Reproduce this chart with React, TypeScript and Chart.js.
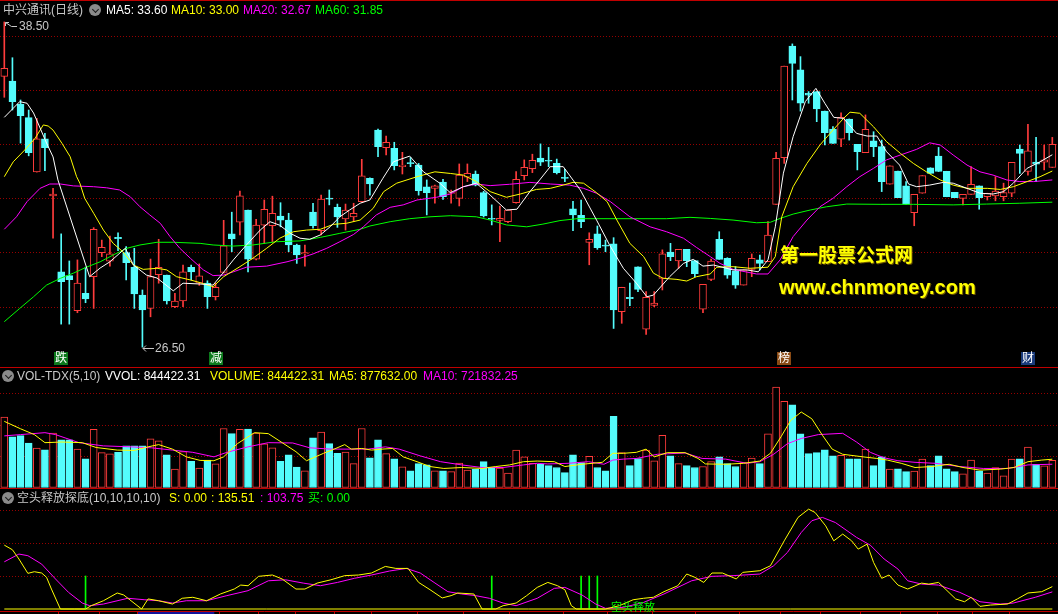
import React, { useEffect, useRef } from "react";
import { Chart, registerables } from "chart.js";

Chart.register(...registerables);

// ---------- price data (candle index 0..129) ----------
const openP = [36.49,36.32,35.47,34.97,32.97,34.19,32.08,29.28,29.14,27.85,28.49,29.10,29.99,29.67,30.55,29.99,29.45,28.42,27.93,29.17,
29.16,27.99,28.21,29.45,28.86,28.86,28.36,29.26,30.68,31.11,31.56,29.75,31.00,30.98,31.34,31.19,30.27,29.94,31.48,30.80,
31.99,31.66,31.23,31.31,31.87,32.73,34.51,33.86,33.84,33.16,33.31,33.22,32.42,32.36,32.59,32.17,31.99,32.77,32.89,32.20,
31.25,31.18,31.13,31.83,32.83,33.09,33.48,33.39,33.28,32.77,31.60,31.36,30.36,30.68,30.26,30.31,27.81,28.34,29.46,27.16,
28.04,29.04,30.01,29.68,30.11,29.69,27.90,29.00,30.48,29.78,29.32,28.79,29.37,29.72,29.65,31.77,33.49,37.61,36.73,35.87,
35.93,35.21,34.55,34.17,34.92,33.98,33.68,34.11,33.90,32.51,33.00,32.45,31.46,32.18,33.12,33.55,32.99,32.21,31.99,32.14,
32.45,32.05,32.08,32.05,32.18,33.81,32.98,33.33,33.33,33.13];
const highP = [38.50,37.18,35.62,35.25,34.94,34.39,32.36,30.68,29.68,29.72,29.45,30.91,30.45,30.60,30.72,30.21,30.15,28.61,29.75,30.48,
29.16,28.49,29.53,29.53,29.57,28.95,28.86,31.18,31.48,32.26,31.56,31.22,31.93,32.07,31.83,31.44,30.30,30.27,31.81,32.11,
32.30,31.78,31.78,31.81,33.43,32.75,34.55,34.29,34.06,33.69,33.50,33.28,32.67,32.48,32.69,32.30,33.26,33.26,33.00,32.25,
31.75,31.71,31.56,32.98,33.41,33.62,34.00,33.87,33.44,33.06,31.88,31.93,30.72,30.97,30.45,30.54,28.71,28.86,29.46,28.55,
28.55,30.09,30.33,30.11,30.11,29.69,28.82,29.75,30.76,29.80,29.47,29.35,29.94,29.90,31.13,33.69,36.87,37.69,37.22,35.93,
35.93,35.21,34.64,35.15,34.92,33.98,35.07,34.45,34.14,33.19,33.00,32.61,32.14,32.83,33.12,33.87,32.99,32.21,32.14,33.16,
32.45,32.18,32.79,32.55,33.32,33.96,34.72,34.24,33.96,34.24];
const lowP = [35.72,35.25,34.03,33.56,32.96,33.01,30.52,27.35,27.35,27.77,28.14,27.93,29.84,29.49,30.06,28.98,27.93,26.50,27.62,28.86,
28.09,27.96,27.99,28.98,28.78,27.93,28.24,29.23,30.02,30.64,29.28,29.72,30.33,30.39,30.94,30.02,29.59,29.49,30.89,30.64,
31.75,30.92,30.82,31.13,31.85,32.11,33.53,33.59,33.04,32.89,33.16,32.11,31.38,31.81,31.95,31.81,31.71,32.61,32.45,31.30,
31.01,30.39,31.09,31.81,32.67,32.94,33.20,33.16,32.89,32.61,30.80,30.91,29.54,30.11,30.02,27.19,27.38,28.03,28.55,26.97,
27.99,28.61,29.69,29.41,29.47,29.10,27.77,28.95,29.74,29.04,28.67,28.79,29.10,29.35,29.65,31.77,33.28,35.62,35.21,35.50,
34.82,33.96,34.02,33.90,34.14,33.04,33.68,33.53,32.24,32.51,32.02,31.78,30.98,32.18,32.91,32.98,32.05,32.02,31.75,32.14,
31.59,31.93,31.90,31.90,32.05,32.91,32.85,32.61,33.04,33.13];
const closeP = [36.79,35.56,35.04,33.68,34.19,33.86,32.15,28.92,28.99,28.86,28.28,30.85,30.18,29.94,30.50,29.62,28.46,27.87,29.10,29.45,
28.21,28.20,29.28,29.28,29.13,28.36,28.71,30.24,30.49,32.08,29.75,31.00,31.59,31.44,31.19,30.27,29.90,29.99,30.98,31.96,
31.96,31.31,31.56,31.44,32.82,32.52,33.90,34.06,33.20,33.22,33.27,32.27,32.20,32.45,32.05,32.18,32.85,32.91,32.48,31.34,
31.22,31.25,31.56,32.69,33.14,33.39,33.33,33.36,32.94,32.73,31.38,31.13,30.48,30.17,30.23,27.87,28.71,28.29,28.63,28.34,
28.13,29.94,29.84,30.11,29.69,29.21,28.82,29.68,29.74,29.16,28.79,29.35,29.78,29.59,30.64,33.47,36.87,36.97,35.50,35.80,
35.29,34.41,34.02,34.98,34.41,33.71,34.54,33.90,32.61,33.19,32.02,31.78,32.14,32.83,32.91,32.98,32.05,32.02,32.14,32.51,
32.02,32.18,32.26,32.20,33.32,33.65,33.74,33.25,33.41,33.98];

// moving averages: [candle index, value]
const ma5Pts: [number, number][] = [[0,34.98],[1.9,35.56],[2.8,35.50],[3.6,35.14],[4.4,34.59],[5.2,34.03],[6.0,33.52],[6.6,32.67],[10.5,29.10],[11.8,29.42],[13.0,29.65],[14.9,30.15],[15.9,29.53],[17.5,29.16],[18.8,29.05],[20.8,28.58],[22.0,28.86],[24.1,28.83],[25.7,28.79],[26.9,29.23],[28.2,29.72],[29.8,30.27],[31.5,30.82],[32.7,31.13],[33.9,31.00],[35.2,30.70],[36.4,30.52],[37.6,30.48],[38.9,30.64],[40.1,30.94],[41.3,31.31],[42.5,31.56],[43.8,31.81],[45.0,31.93],[46.6,32.73],[47.9,33.34],[49.9,33.55],[51.6,32.97],[53.6,32.55],[54.9,32.20],[56.5,32.42],[58.1,32.55],[59.8,32.11],[61.8,31.56],[63.1,31.59],[64.7,32.24],[65.9,32.67],[67.2,33.16],[68.8,33.16],[70.9,32.30],[72.9,31.19],[74.5,30.27],[76.2,29.41],[77.8,28.86],[79.1,28.36],[79.9,28.42],[81.9,29.10],[83.6,29.59],[84.8,29.74],[86.0,29.49],[87.3,29.53],[89.7,29.35],[91.4,29.35],[92.8,29.28],[94.0,29.72],[94.9,30.94],[95.9,32.92],[97.1,34.27],[98.6,35.56],[99.9,36.05],[101.0,35.50],[102.1,34.98],[103.3,34.94],[104.9,34.39],[106.2,34.29],[107.4,34.29],[108.6,33.71],[110.2,33.22],[111.3,32.52],[112.3,32.42],[113.9,32.48],[115.6,32.58],[116.8,32.55],[118.5,32.36],[120.1,32.18],[121.7,32.15],[123.0,32.24],[124.2,32.55],[125.9,33.10],[127.5,33.34],[129,33.60]];
const ma10Pts: [number, number][] = [[0,32.79],[1.1,33.34],[2.5,33.77],[3.8,34.21],[4.8,34.70],[5.4,34.66],[6.0,34.51],[7.1,34.02],[8.1,33.53],[8.9,32.79],[9.3,32.55],[9.9,31.99],[11.0,31.44],[12.2,30.82],[13.4,30.33],[14.6,30.02],[15.9,29.53],[17.1,29.37],[18.8,29.41],[20.0,29.35],[21.2,29.10],[22.9,28.98],[24.1,28.88],[25.7,28.73],[27.0,29.10],[29.0,29.47],[30.6,29.78],[32.3,30.15],[33.9,30.52],[35.6,30.76],[37.2,30.82],[38.9,30.85],[40.5,31.03],[42.1,31.07],[43.8,31.19],[45.4,31.62],[46.7,32.24],[48.3,32.55],[50.8,32.79],[53.0,32.97],[54.9,32.91],[56.5,32.85],[58.1,32.61],[59.8,32.24],[61.8,32.03],[63.5,32.15],[65.5,32.32],[67.2,32.36],[68.8,32.48],[70.0,32.58],[71.3,32.55],[72.9,32.20],[74.2,31.87],[75.4,31.19],[77.0,30.33],[78.7,29.84],[79.9,29.23],[81.1,29.04],[82.8,29.00],[84.0,28.94],[85.2,29.10],[86.9,29.20],[87.7,29.45],[89.7,29.47],[91.8,29.41],[94.0,29.45],[94.9,29.84],[95.7,31.31],[97.1,32.42],[98.8,33.28],[100.4,33.96],[102.0,34.51],[103.3,34.94],[104.1,35.17],[105.3,35.13],[107.0,34.63],[108.6,34.08],[110.3,33.65],[111.9,33.28],[113.5,32.97],[115.2,32.67],[116.8,32.48],[118.5,32.36],[121.0,32.36],[122.6,32.32],[124.2,32.42],[125.9,32.61],[127.5,32.79],[129,33.00]];
const ma20Pts: [number, number][] = [[0,30.85],[1.5,31.31],[2.8,31.87],[4.4,32.36],[5.6,32.52],[6.9,32.52],[8.5,32.45],[11.0,32.42],[12.6,32.38],[14.2,32.30],[15.5,32.05],[16.7,31.68],[17.9,31.38],[19.2,31.07],[20.4,30.58],[21.6,30.15],[22.9,29.78],[24.5,29.35],[25.7,29.14],[27.0,29.16],[28.2,29.28],[29.8,29.45],[32.3,29.49],[34.8,29.65],[36.4,29.78],[38.0,29.94],[39.7,30.15],[41.3,30.39],[43.0,30.66],[44.2,30.94],[45.8,31.38],[47.5,31.66],[49.1,31.75],[50.8,31.93],[53.2,32.03],[54.9,32.15],[56.5,32.42],[58.1,32.52],[59.8,32.46],[62.2,32.51],[64.7,32.58],[67.2,32.52],[69.6,32.48],[71.3,32.36],[72.9,32.18],[74.6,31.87],[77.0,31.31],[79.5,30.94],[81.5,30.76],[83.6,30.52],[85.2,30.18],[86.9,29.84],[88.1,29.59],[89.7,29.37],[92.6,29.20],[94.0,29.20],[95.5,29.72],[97.1,30.58],[98.8,31.19],[100.4,31.68],[102.0,31.99],[103.7,32.42],[105.3,32.79],[107.0,33.10],[108.6,33.41],[110.3,33.59],[112.3,33.80],[113.9,34.04],[115.2,33.96],[116.8,33.59],[118.5,33.22],[120.1,32.97],[121.7,32.85],[123.4,32.67],[125.0,32.61],[126.7,32.61],[129,32.67]];
const ma60Pts: [number, number][] = [[0,27.44],[1.9,27.93],[3.6,28.36],[5.2,28.79],[6.9,29.04],[8.5,29.23],[10.1,29.45],[11.8,29.65],[13.4,29.90],[15.1,30.15],[16.7,30.27],[18.8,30.37],[20.8,30.37],[24.1,30.33],[25.7,30.27],[28.2,30.23],[30.6,30.27],[33.5,30.39],[36.4,30.42],[38.9,30.55],[41.3,30.70],[43.8,30.85],[45.0,30.97],[47.5,31.13],[49.9,31.24],[52.4,31.31],[54.9,31.35],[58.1,31.31],[59.8,31.19],[61.8,31.01],[64.3,30.94],[66.3,31.04],[68.4,31.17],[70.5,31.24],[75.4,31.24],[81.5,31.24],[84.4,31.29],[86.9,31.25],[89.7,31.19],[92.6,31.09],[94.3,31.11],[95.5,31.25],[97.1,31.41],[99.2,31.56],[101.2,31.68],[103.7,31.78],[107.8,31.77],[111.9,31.77],[116.8,31.75],[120.9,31.78],[125.0,31.81],[129,31.85]];

// ---------- volume ----------
const volume = [2180000,1570000,1610000,1380000,1220000,1170000,1690000,1480000,1480000,1190000,890000,1800000,1080000,1040000,1090000,1290000,1290000,1290000,1510000,1450000,
1010000,570000,1110000,810000,600000,850000,730000,1830000,1670000,1800000,1810000,1690000,1350000,1230000,810000,1010000,630000,520000,1540000,1720000,
1360000,1060000,1100000,740000,1830000,920000,1480000,1050000,890000,640000,520000,740000,700000,520000,520000,490000,760000,540000,560000,800000,
630000,600000,450000,1160000,950000,750000,720000,680000,620000,460000,1010000,770000,970000,620000,520000,2210000,1080000,680000,900000,1160000,
830000,1620000,980000,740000,680000,620000,650000,800000,950000,740000,650000,770000,910000,740000,1660000,3110000,2670000,2560000,1660000,1050000,
1080000,1170000,980000,1000000,890000,890000,1190000,680000,950000,570000,580000,490000,510000,880000,680000,980000,580000,490000,420000,850000,
520000,450000,620000,360000,880000,890000,1250000,720000,670000,844422];
const volMa5Pts: [number, number][] = [[0,2050000],[2,1820000],[3.7,1640000],[5,1390000],[7.1,1410000],[9.6,1390000],[11.3,1240000],[13.9,1160000],[16,1150000],[17.7,1260000],[19,1330000],[20.7,1190000],[22.4,950000],[24.1,840000],[25.8,830000],[27,950000],[28.7,1360000],[30.8,1700000],[32.5,1670000],[34.2,1390000],[35.9,1110000],[37.2,830000],[39.3,1060000],[40.6,1190000],[41.9,1330000],[42.7,1190000],[44,1210000],[45.2,1160000],[46.5,1190000],[47.8,1210000],[49.1,950000],[50.8,800000],[52.4,650000],[54.1,590000],[56.3,620000],[58.8,590000],[60.5,650000],[62.2,700000],[63.9,800000],[65.6,820000],[67.7,800000],[69,650000],[71.1,720000],[73.6,780000],[74.9,1060000],[76.2,1060000],[77.8,1090000],[79,1190000],[80,950000],[81.6,1080000],[83.8,1080000],[85.4,900000],[86.3,730000],[88.8,720000],[91,750000],[93,820000],[94.3,1060000],[95.6,1570000],[96.8,2080000],[98.1,2340000],[99.4,2130000],[100.7,1620000],[101.9,1190000],[103.2,1030000],[105.7,950000],[107.4,900000],[108.7,850000],[110.4,750000],[112.1,620000],[114.2,650000],[116.3,720000],[118,620000],[120.1,540000],[122.6,570000],[124.3,620000],[126,800000],[127.7,850000],[129,877632]];
const volMa10Pts: [number, number][] = [[0,1600000],[2,1640000],[5,1700000],[6.3,1640000],[9.2,1390000],[12.2,1290000],[15.6,1260000],[18.1,1230000],[20.7,1160000],[23.2,1090000],[25.8,950000],[27.4,1090000],[30,1260000],[32.5,1390000],[35.5,1380000],[37.6,1230000],[40.2,1190000],[42.7,1190000],[44.8,1190000],[46.9,1260000],[48.6,1190000],[51.2,980000],[53.7,800000],[56.3,700000],[58.8,620000],[61.4,620000],[63.9,700000],[65.6,750000],[66.9,730000],[69.4,750000],[71.9,800000],[73.8,720000],[74.9,850000],[76.2,880000],[77.8,900000],[80.4,1030000],[83.8,1070000],[85.9,900000],[88.8,880000],[91.4,750000],[93,800000],[94.7,1030000],[96.4,1360000],[98.1,1520000],[100.2,1640000],[103.2,1680000],[104.9,1410000],[106.6,1090000],[108.3,920000],[110,830000],[112.1,780000],[114.6,750000],[117.6,650000],[120.5,590000],[123.5,590000],[126,700000],[129,721832]];

// ---------- 空头释放探底 indicator ----------
const oscPts: [number, number][] = [[0,387],[1.0,359],[1.8,303],[2.9,216],[3.7,226],[4.6,218],[5.2,192],[5.8,121],[6.9,0],[8.6,0],[10,0],[10.7,20],[12.2,50],[13.9,97],[14.7,85],[15.6,50],[16.9,0],[17.7,61],[19.0,50],[20.7,30],[21.9,65],[23.2,71],[24.9,50],[26.6,91],[28.3,121],[29.1,145],[30.0,141],[31.3,198],[33.0,206],[34.2,182],[35.9,121],[37.0,121],[38.5,157],[40.2,177],[41.9,202],[43.6,206],[45.2,218],[46.9,258],[48.2,246],[49.7,246],[51.0,161],[52.4,117],[53.9,67],[55.0,81],[55.8,97],[57.8,91],[58.8,0],[60.5,0],[61.4,20],[63.0,36],[64.3,81],[65.6,131],[66.9,161],[68.1,141],[69.0,117],[69.8,20],[70.4,0],[74.0,0],[75.7,20],[77.4,56],[78.7,65],[79.9,71],[81.2,105],[82.9,141],[84.0,212],[85.0,192],[86.1,161],[87.1,218],[88.4,218],[90.1,182],[90.9,222],[93.0,232],[94.3,262],[96.0,413],[97.7,555],[99.0,605],[99.8,585],[101.1,504],[102.1,413],[103.2,454],[104.3,413],[105.1,363],[106.2,393],[107.0,282],[108.0,186],[108.9,206],[110.0,145],[111.2,121],[112.9,157],[113.8,151],[115.0,161],[117.1,61],[118.2,44],[119.0,71],[120.1,16],[121.4,24],[123.5,30],[124.7,61],[126.0,97],[127.7,105],[129,135.51]];
const oscMaPts: [number, number][] = [[0,286],[1.8,333],[2.9,323],[4.6,272],[6.3,182],[7.9,101],[9.6,36],[10.5,20],[12.2,30],[15.2,65],[17.3,56],[19.0,50],[20.7,36],[22.4,50],[24.9,50],[27.4,81],[30.0,111],[32.5,171],[34.6,177],[36.8,157],[38.9,141],[41.0,161],[43.1,186],[45.2,206],[47.4,230],[49.5,246],[51.2,218],[52.9,161],[54.6,105],[56.3,91],[58.0,81],[59.7,65],[61.4,36],[63.0,20],[65.6,65],[67.7,125],[69.0,131],[71.1,85],[72.8,30],[74.0,4],[76.2,10],[78.7,40],[81.2,91],[84.6,171],[87.1,198],[89.7,202],[93.0,212],[94.7,262],[96.4,343],[98.1,464],[99.4,535],[100.7,555],[102.3,524],[104.9,434],[106.6,387],[108.3,303],[110.0,242],[111.2,171],[112.9,151],[115.0,145],[117.6,101],[120.1,44],[122.6,30],[124.2,36],[126.9,71],[129,103.75]];
const sLinePts: [number, number][] = [[0,0],[129,0]];
const buyIdx = [10, 60, 71, 72, 73];
const buyVal = [200, 200, 200, 200, 200];

// markers
const eventIdx = [7, 26, 96, 126];
const eventText = ["跌", "减", "榜", "财"];
const axisTicks = [6.65,11.66,16.37,26.46,31.19,35.82,40.55,45.14,50.84,56.5,62.12,68.77,74.22,79.69,85.02,90.47,95.45,100.44,105.29,110.25,114.77,119.11,123.63];
const axisBand = [16.37, 25.85];

const priceGrid = [28, 30, 32, 34, 36, 38];
const volGrid = [975000, 1950000, 2925000];
const indGrid = [200, 400, 600];

// ---------- styles ----------
const RED = "#ff3c3c";
const CYAN = "#54fcfc";
const SEP = "#c00000";
const DOT = "#960000";
const FONT = '12px "Liberation Sans", "Noto Sans CJK SC", sans-serif';
const X_MIN = -0.53;
const X_MAX = 129.7;
const W = 1058;

const isUp = (i: number) => closeP[i] >= openP[i];
const idx = openP.map((_, i) => i);
const pts = (a: [number, number][]) => a.map(([x, y]) => ({ x, y }));

const gridPlugin = {
  id: "dotGrid",
  beforeDatasetsDraw(chart: any, _a: any, opts: any) {
    const { ctx, chartArea } = chart;
    const ys = chart.scales.y;
    ctx.save();
    ctx.strokeStyle = DOT;
    ctx.lineWidth = 1;
    ctx.setLineDash([1, 2]);
    for (const v of opts.values || []) {
      const py = Math.round(ys.getPixelForValue(v)) + 0.5;
      ctx.beginPath();
      ctx.moveTo(chartArea.left, py);
      ctx.lineTo(chartArea.right, py);
      ctx.stroke();
    }
    ctx.restore();
  },
};

const markerPlugin = {
  id: "priceMarks",
  afterDatasetsDraw(chart: any) {
    const { ctx } = chart;
    const xs = chart.scales.x, ys = chart.scales.y;
    ctx.save();
    ctx.font = FONT;
    ctx.strokeStyle = "#c8c8c8";
    ctx.fillStyle = "#c8c8c8";
    ctx.lineWidth = 1;
    let hi = 0, lo = 0;
    highP.forEach((v, i) => { if (v > highP[hi]) hi = i; });
    lowP.forEach((v, i) => { if (v < lowP[lo]) lo = i; });
    const hx = Math.round(xs.getPixelForValue(hi)), hy = Math.round(ys.getPixelForValue(highP[hi]));
    ctx.beginPath();
    ctx.moveTo(hx + 1.5, hy + 0.5); ctx.lineTo(hx + 7.5, hy + 4.5); ctx.lineTo(hx + 13, hy + 4.5);
    ctx.moveTo(hx + 1.5, hy + 0.5); ctx.lineTo(hx + 5, hy + 0.5);
    ctx.moveTo(hx + 1.5, hy + 0.5); ctx.lineTo(hx + 1.5, hy + 4);
    ctx.stroke();
    ctx.textBaseline = "middle";
    ctx.fillText(highP[hi].toFixed(2), hx + 15, hy + 5);
    const lx = Math.round(xs.getPixelForValue(lo)), ly = Math.round(ys.getPixelForValue(lowP[lo]));
    ctx.beginPath();
    ctx.moveTo(lx + 1, ly + 1.5); ctx.lineTo(lx + 12, ly + 1.5);
    ctx.moveTo(lx + 1, ly + 1.5); ctx.lineTo(lx + 4, ly - 1.5);
    ctx.moveTo(lx + 1, ly + 1.5); ctx.lineTo(lx + 4, ly + 4.5);
    ctx.stroke();
    ctx.fillText(lowP[lo].toFixed(2), lx + 13, ly + 2);
    const bgs = ["#0c7a1c", "#0c7a1c", "#8a4a14", "#1a3a7a"];
    ctx.textAlign = "center";
    eventIdx.forEach((ei, k) => {
      const ex = Math.round(xs.getPixelForValue(ei));
      ctx.fillStyle = bgs[k];
      ctx.fillRect(ex - 7, 352, 14, 13);
      ctx.fillStyle = "#ffffff";
      ctx.fillText(eventText[k], ex, 358.5);
    });
    ctx.restore();
  },
};

const axisPlugin = {
  id: "indAxis",
  afterDraw(chart: any) {
    const { ctx, width } = chart;
    const xs = chart.scales.x;
    ctx.save();
    const b0 = xs.getPixelForValue(axisBand[0]), b1 = xs.getPixelForValue(axisBand[1]);
    ctx.fillStyle = "#12129a";
    ctx.fillRect(b0, 124, b1 - b0, 2);
    ctx.strokeStyle = SEP;
    ctx.lineWidth = 1;
    ctx.beginPath();
    ctx.moveTo(0, 123.5); ctx.lineTo(width, 123.5);
    axisTicks.forEach((t) => {
      const px = Math.round(xs.getPixelForValue(t)) + 0.5;
      ctx.moveTo(px, 123.5); ctx.lineTo(px, 126);
    });
    ctx.stroke();
    ctx.restore();
  },
};

const baseOptions = (ymin: number, ymax: number, grid: number[]) => ({
  responsive: false,
  animation: false as const,
  events: [] as any[],
  layout: { padding: 0 },
  plugins: { legend: { display: false }, tooltip: { enabled: false }, dotGrid: { values: grid } },
  scales: {
    x: { type: "linear" as const, min: X_MIN, max: X_MAX, display: false, offset: false },
    y: { type: "linear" as const, min: ymin, max: ymax, display: false },
  },
});

const line = (data: [number, number][], color: string, order = 0) => ({
  type: "line" as const,
  data: pts(data),
  borderColor: color,
  borderWidth: 1,
  pointRadius: 0,
  tension: 0,
  fill: false,
  order,
});

function Icon({ x, y }: { x: number; y: number }) {
  return (
    <div style={{ position: "absolute", left: x - 6, top: y - 6, width: 12, height: 12, borderRadius: 6, background: "#8a8a8a" }}>
      <div style={{ position: "absolute", left: 3.5, top: 2.5, width: 4, height: 4, borderRight: "1.5px solid #1a1a1a", borderBottom: "1.5px solid #1a1a1a", transform: "rotate(45deg)" }} />
    </div>
  );
}

function T({ x, cy, color, children }: { x: number; cy: number; color: string; children: React.ReactNode }) {
  return (
    <span style={{ position: "absolute", left: x, top: cy - 7, height: 14, lineHeight: "14px", fontSize: 12, fontFamily: '"Liberation Sans", "Noto Sans CJK SC", sans-serif', color, whiteSpace: "pre" }}>
      {children}
    </span>
  );
}

export default function App() {
  const priceRef = useRef<HTMLCanvasElement>(null);
  const volRef = useRef<HTMLCanvasElement>(null);
  const indRef = useRef<HTMLCanvasElement>(null);

  useEffect(() => {
    document.body.style.margin = "0";
    document.body.style.background = "#000";
    const charts: Chart[] = [];

    charts.push(new Chart(priceRef.current!, {
      type: "bar",
      data: {
        datasets: [
          line(ma5Pts, "#ffffff"),
          line(ma10Pts, "#ffff00"),
          line(ma20Pts, "#ff00ff"),
          line(ma60Pts, "#00ff00"),
          {
            type: "bar",
            data: idx.map((i) => ({ x: i, y: [openP[i], closeP[i]] })) as any,
            backgroundColor: idx.map((i) => (isUp(i) ? "#000000" : CYAN)),
            borderColor: idx.map((i) => (isUp(i) ? RED : CYAN)),
            borderWidth: 1,
            borderSkipped: false,
            barThickness: 7,
            minBarLength: 1,
            grouped: false,
            order: 1,
          },
          {
            type: "bar",
            data: idx.map((i) => ({ x: i, y: [lowP[i], highP[i]] })) as any,
            backgroundColor: idx.map((i) => (isUp(i) ? RED : CYAN)),
            borderWidth: 0,
            barThickness: 1,
            grouped: false,
            order: 2,
          },
        ] as any,
      },
      options: baseOptions(38 - (367 - 35.5) / 27.1, 38 + 35.5 / 27.1, priceGrid) as any,
      plugins: [gridPlugin, markerPlugin] as any,
    }));

    charts.push(new Chart(volRef.current!, {
      type: "bar",
      data: {
        datasets: [
          line(volMa5Pts, "#ffff00"),
          line(volMa10Pts, "#ff00ff"),
          {
            type: "bar",
            data: idx.map((i) => ({ x: i, y: volume[i] })) as any,
            backgroundColor: idx.map((i) => (isUp(i) ? "#000000" : CYAN)),
            borderColor: idx.map((i) => (isUp(i) ? RED : CYAN)),
            borderWidth: 1,
            borderSkipped: false,
            barThickness: 7,
            grouped: false,
            order: 1,
          },
        ] as any,
      },
      options: baseOptions(-15500, 3735500, volGrid) as any,
      plugins: [gridPlugin] as any,
    }));

    charts.push(new Chart(indRef.current!, {
      type: "bar",
      data: {
        datasets: [
          line(sLinePts, "#ffff00", 3),
          line(oscPts, "#ffff00"),
          line(oscMaPts, "#ff00ff"),
          {
            type: "bar",
            data: buyIdx.map((b, k) => ({ x: b, y: buyVal[k] })) as any,
            backgroundColor: "#00ff00",
            borderWidth: 0,
            barThickness: 1,
            grouped: false,
            order: 2,
          },
        ] as any,
      },
      options: baseOptions(-30.3, 733.3, indGrid) as any,
      plugins: [gridPlugin, axisPlugin] as any,
    }));

    return () => charts.forEach((c) => c.destroy());
  }, []);

  return (
    <div style={{ position: "fixed", left: 0, top: 0, width: W, height: 614, background: "#000", overflow: "hidden" }}>
      <canvas ref={priceRef} width={W} height={367} style={{ position: "absolute", left: 0, top: 0 }} />
      <canvas ref={volRef} width={W} height={121} style={{ position: "absolute", left: 0, top: 367 }} />
      <canvas ref={indRef} width={W} height={126} style={{ position: "absolute", left: 0, top: 488 }} />

      <div style={{ position: "absolute", left: 0, top: 0, width: W, height: 1, background: SEP }} />
      <div style={{ position: "absolute", left: 0, top: 367, width: W, height: 1, background: SEP }} />
      <div style={{ position: "absolute", left: 0, top: 488, width: W, height: 1, background: SEP }} />

      <T x={3} cy={10} color="#c8c8c8">中兴通讯(日线)</T>
      <Icon x={95} y={10} />
      <T x={106} cy={10} color="#ffffff">MA5: 33.60</T>
      <T x={171} cy={10} color="#ffff00">MA10: 33.00</T>
      <T x={243} cy={10} color="#ff00ff">MA20: 32.67</T>
      <T x={315} cy={10} color="#00ff00">MA60: 31.85</T>

      <Icon x={8} y={376} />
      <T x={17} cy={376} color="#c8c8c8">VOL-TDX(5,10)</T>
      <T x={105} cy={376} color="#ffffff">VVOL: 844422.31</T>
      <T x={210} cy={376} color="#ffff00">VOLUME: 844422.31</T>
      <T x={329} cy={376} color="#ffff00">MA5: 877632.00</T>
      <T x={423} cy={376} color="#ff00ff">MA10: 721832.25</T>

      <Icon x={8} y={498} />
      <T x={17} cy={498} color="#c8c8c8">空头释放探底(10,10,10,10)</T>
      <T x={169} cy={498} color="#ffff00">S: 0.00</T>
      <T x={211} cy={498} color="#ffff00">: 135.51</T>
      <T x={260} cy={498} color="#ff00ff">: 103.75</T>
      <T x={308} cy={498} color="#00ff00">买: 0.00</T>

      <span style={{ position: "absolute", left: 611, top: 600, fontSize: 11, lineHeight: "12px", color: "#00ff00", fontFamily: '"Noto Sans CJK SC", sans-serif', whiteSpace: "pre" }}>空头释放</span>

      <span style={{ position: "absolute", left: 780, top: 243, fontSize: 19, lineHeight: "22px", fontWeight: 700, color: "#ffff00", fontFamily: '"Noto Sans CJK SC", sans-serif', textShadow: "1px 1px 0 #6a5200", whiteSpace: "pre" }}>第一股票公式网</span>
      <span style={{ position: "absolute", left: 779, top: 275, fontSize: 20, lineHeight: "24px", fontWeight: 700, color: "#ffff00", fontFamily: '"Liberation Sans", sans-serif', textShadow: "1px 1px 0 #6a5200", whiteSpace: "pre" }}>www.chnmoney.com</span>
    </div>
  );
}
